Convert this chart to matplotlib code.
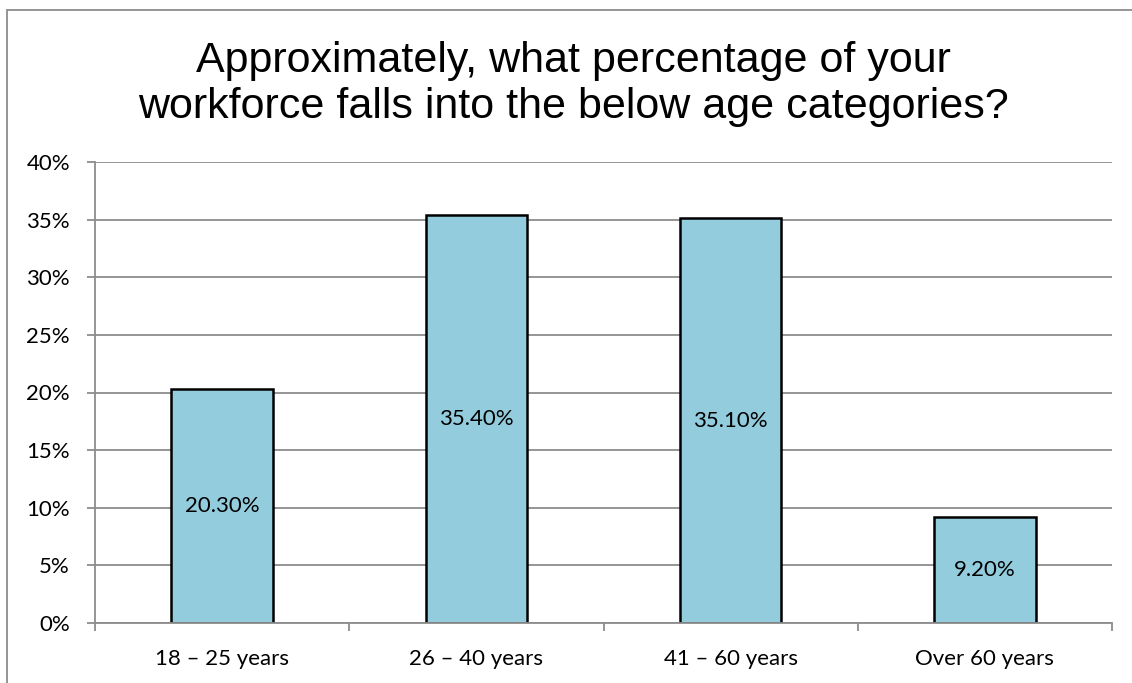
import matplotlib.pyplot as plt
from matplotlib.patches import Rectangle
from matplotlib.ticker import FuncFormatter, FixedLocator

# === Data ===
categories = ['18 – 25 years', '26 – 40 years', '41 – 60 years', 'Over 60 years']
values = [20.3, 35.4, 35.1, 9.2]
value_labels = ['20.30%', '35.40%', '35.10%', '9.20%']
y_ticks = [0, 5, 10, 15, 20, 25, 30, 35, 40]
title = 'Approximately, what percentage of your\nworkforce falls into the below age categories?'

# === Style ===
bar_color = '#93CDDD'
grid_color = '#8C8C8C'
label_font = 'Lato'
title_font = 'Liberation Sans'
label_size = 16

W, H = 1132, 683
fig = plt.figure(figsize=(W / 100, H / 100), dpi=100)

# outer chart frame (cropped on right and bottom)
fig.patches.append(Rectangle((7 / W, -0.1), 1.2, 1 - 10 / H + 0.1,
                             transform=fig.transFigure, fill=False,
                             edgecolor=grid_color, linewidth=1.3))

ax = fig.add_axes([95 / W, 1 - 623 / H, (1112 - 95) / W, (623 - 162) / H])

x = list(range(len(categories)))
bars = ax.bar(x, values, width=0.40, color=bar_color, edgecolor='black',
              linewidth=1.8, zorder=3)

for b, lab in zip(bars, value_labels):
    ax.text(b.get_x() + b.get_width() / 2, b.get_height() / 2, lab,
            ha='center', va='center', fontsize=label_size, family=label_font, zorder=4)

ax.set_xlim(-0.5, len(categories) - 0.5)
ax.set_ylim(0, 40)
ax.set_yticks(y_ticks)
ax.yaxis.set_major_formatter(FuncFormatter(lambda v, p: f'{v:.0f}%'))
ax.grid(axis='y', color=grid_color, linewidth=1.3, zorder=0)

ax.set_xticks(x)
ax.set_xticklabels(categories)
ax.xaxis.set_minor_locator(FixedLocator([i - 0.5 for i in range(len(categories) + 1)]))
ax.tick_params(axis='x', which='major', length=0, pad=19)
ax.tick_params(axis='x', which='minor', length=6, width=1.3, color=grid_color, direction='out')
ax.tick_params(axis='y', length=6, width=1.3, color=grid_color, pad=12)

for lab in ax.get_xticklabels() + ax.get_yticklabels():
    lab.set_fontsize(label_size)
    lab.set_family(label_font)

for side in ['top', 'right']:
    ax.spines[side].set_visible(False)
for side in ['left', 'bottom']:
    ax.spines[side].set_color(grid_color)
    ax.spines[side].set_linewidth(1.3)
    ax.spines[side].set_zorder(5)

fig.text(573 / W, 1 - 84 / H, title, ha='center', va='center',
         fontsize=31, family=title_font, linespacing=1.17)

fig.savefig('out.png', dpi=100)
